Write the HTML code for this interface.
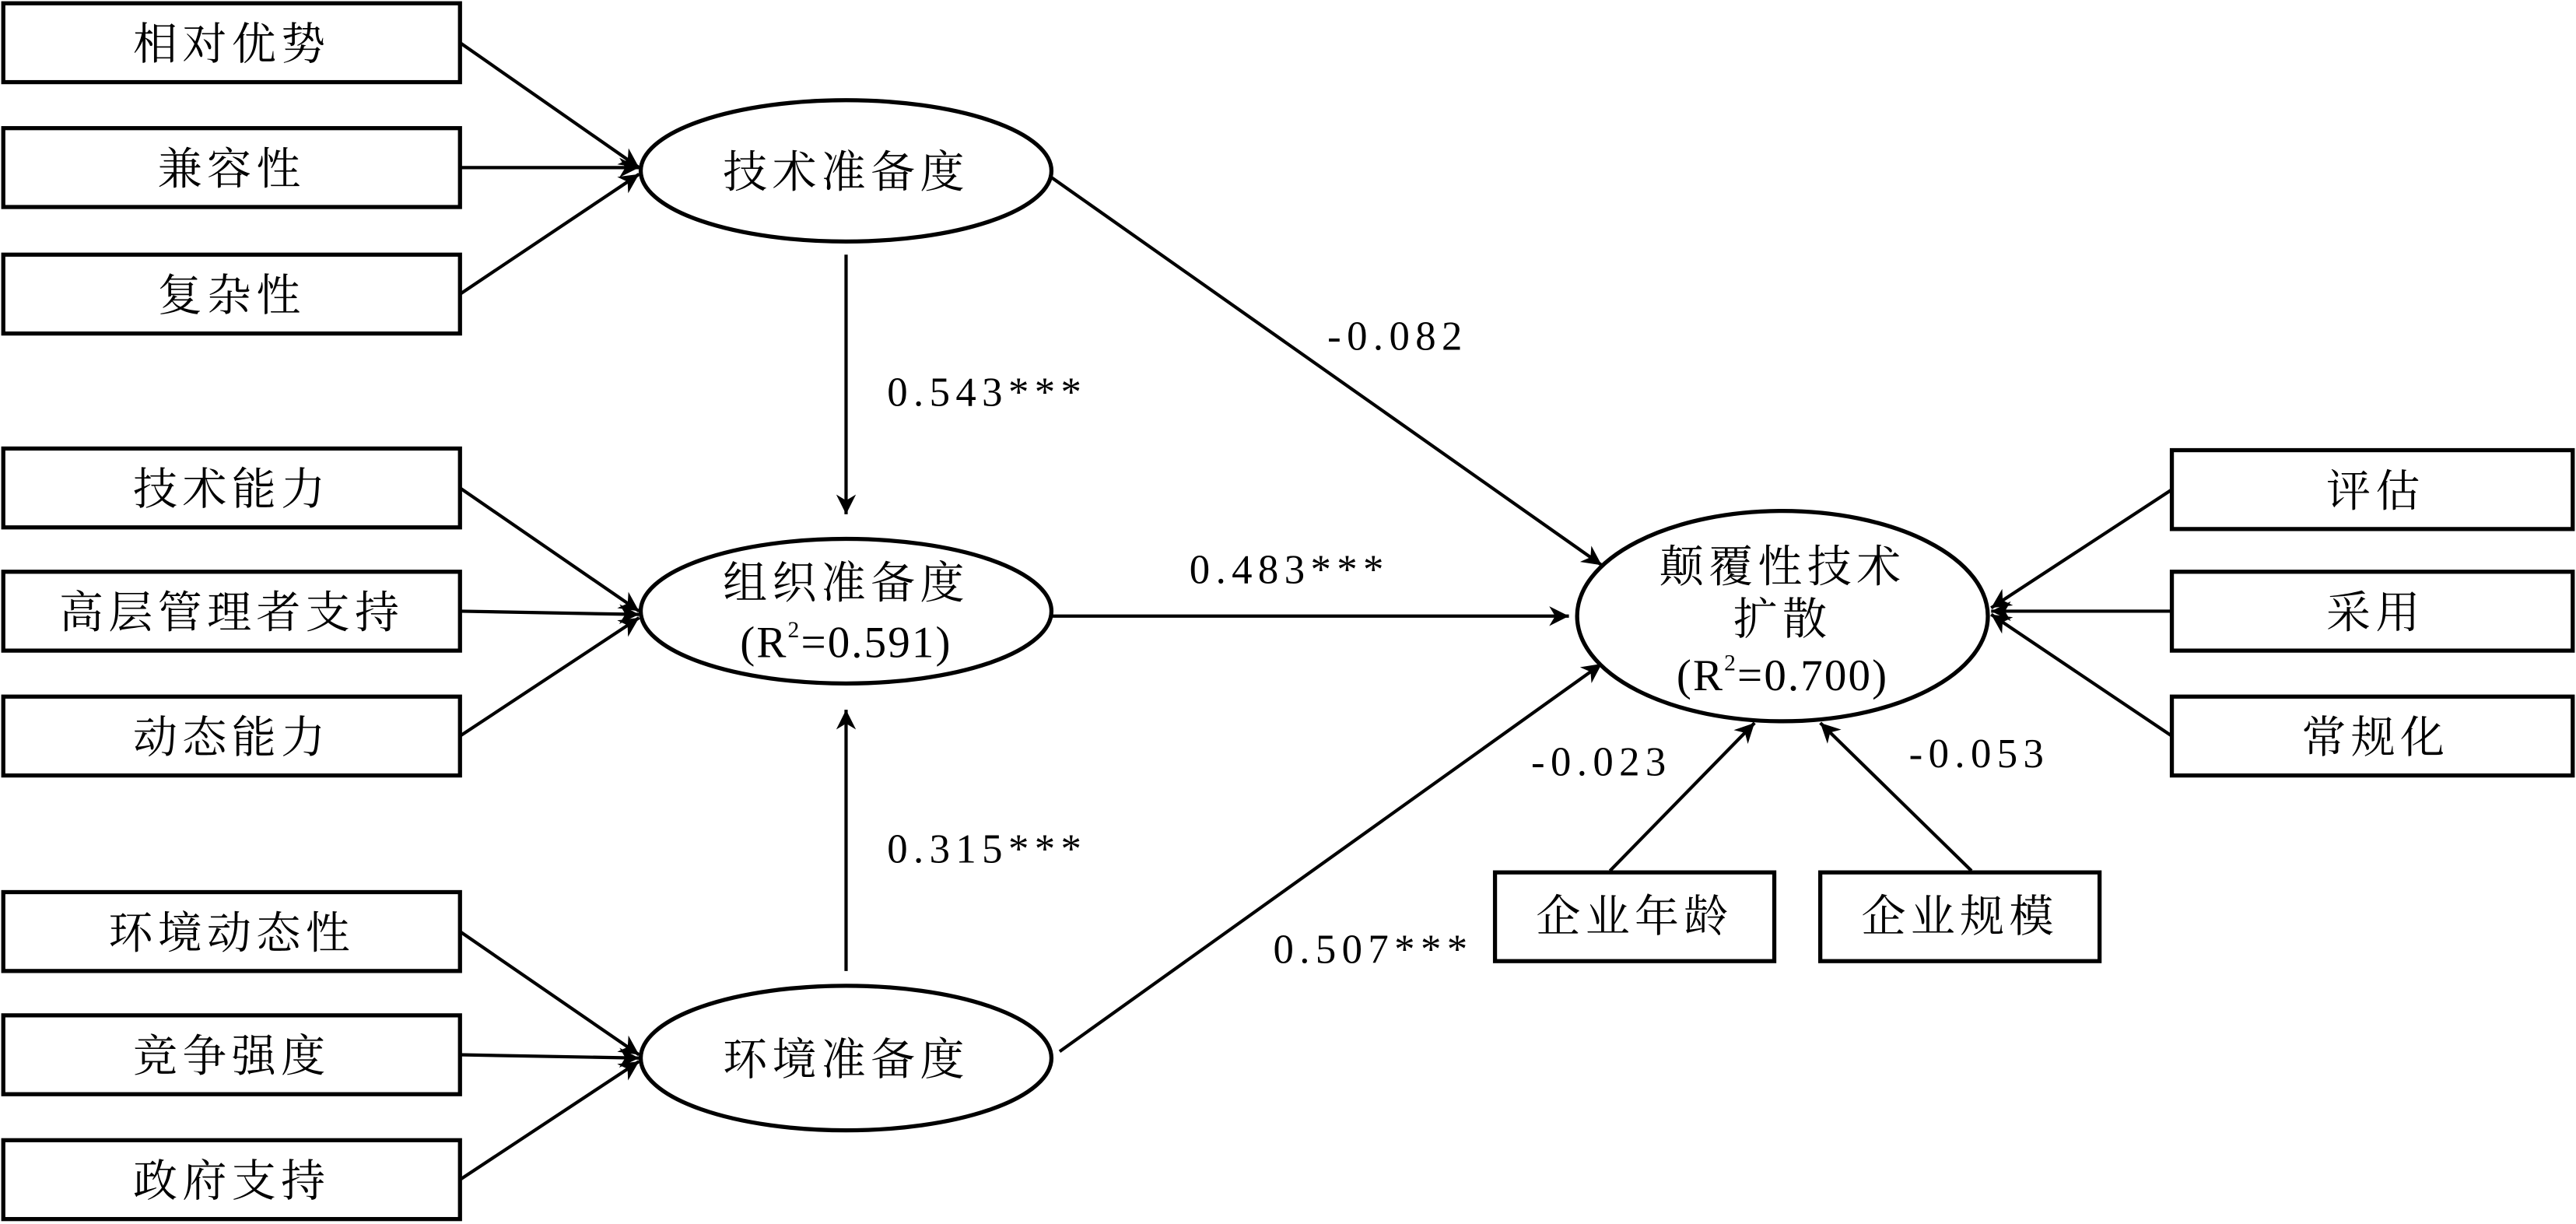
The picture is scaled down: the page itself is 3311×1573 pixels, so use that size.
<!DOCTYPE html>
<html><head><meta charset="utf-8"><style>
html,body{margin:0;padding:0;background:#fff;}
svg{display:block;}
text{font-family:"Liberation Serif","Noto Serif CJK SC","Noto Sans CJK SC",serif;fill:#000;}
</style></head><body>
<svg width="3311" height="1573" viewBox="0 0 1568 745" preserveAspectRatio="none" xmlns="http://www.w3.org/2000/svg">
<defs>
<marker id="b" viewBox="0 0 10 10" refX="10" refY="5" markerWidth="16" markerHeight="12" orient="auto" markerUnits="userSpaceOnUse"><path d="M0,0L10,5L0,10L3,5z" fill="#000"/></marker></defs>
<g fill="none" stroke="#000" stroke-width="2.5">
<rect x="2" y="2" width="278" height="48"/><rect x="2" y="78" width="278" height="48"/><rect x="2" y="155" width="278" height="48"/>
<rect x="2" y="273" width="278" height="48"/><rect x="2" y="348" width="278" height="48"/><rect x="2" y="424" width="278" height="48"/>
<rect x="2" y="543" width="278" height="48"/><rect x="2" y="618" width="278" height="48"/><rect x="2" y="694" width="278" height="48"/>
<rect x="1322" y="274" width="244" height="48"/><rect x="1322" y="348" width="244" height="48"/><rect x="1322" y="424" width="244" height="48"/>
<rect x="910" y="531" width="170" height="54"/><rect x="1108" y="531" width="170" height="54"/>
<ellipse cx="515" cy="104" rx="125" ry="43"/><ellipse cx="515" cy="372" rx="125" ry="44"/><ellipse cx="515" cy="644" rx="125" ry="44"/><ellipse cx="1085" cy="375" rx="125" ry="64"/>
</g>
<g stroke="#000" stroke-width="2" marker-end="url(#b)">
<line x1="280" y1="26" x2="389" y2="102"/><line x1="280" y1="102" x2="389" y2="102"/><line x1="280" y1="179" x2="389" y2="106"/>
<line x1="280" y1="297" x2="389" y2="372"/><line x1="280" y1="372" x2="389" y2="374"/><line x1="280" y1="448" x2="389" y2="376"/>
<line x1="280" y1="567" x2="389" y2="642"/><line x1="280" y1="642" x2="389" y2="644"/><line x1="280" y1="718" x2="389" y2="646"/>
<line x1="1322" y1="298" x2="1212" y2="370"/><line x1="1322" y1="372" x2="1212" y2="372"/><line x1="1322" y1="448" x2="1212" y2="374"/>
<line x1="515" y1="155" x2="515" y2="313"/><line x1="515" y1="591" x2="515" y2="432"/>
<line x1="640" y1="108" x2="975" y2="344"/><line x1="640" y1="375" x2="955" y2="375"/><line x1="645" y1="640" x2="975" y2="404"/>
<line x1="980" y1="530" x2="1068" y2="440"/><line x1="1200" y1="530" x2="1108" y2="440"/>
</g>
<g font-size="27" text-anchor="middle" letter-spacing="3">
<text x="141" y="36">相对优势</text><text x="141" y="112">兼容性</text><text x="141" y="189">复杂性</text>
<text x="141" y="307">技术能力</text><text x="141" y="382">高层管理者支持</text><text x="141" y="458">动态能力</text>
<text x="141" y="577">环境动态性</text><text x="141" y="652">竞争强度</text><text x="141" y="728">政府支持</text>
<text x="1446" y="308">评估</text><text x="1446" y="382">采用</text><text x="1446" y="458">常规化</text>
<text x="995" y="567">企业年龄</text><text x="1193" y="567">企业规模</text>
<text x="515" y="114">技术准备度</text><text x="515" y="364">组织准备度</text><text x="515" y="400" letter-spacing="1">(R<tspan font-size="14" dy="-12">2</tspan><tspan dy="12">=0.591)</tspan></text>
<text x="515" y="654">环境准备度</text>
<text x="1085" y="354">颠覆性技术</text><text x="1085" y="386">扩散</text><text x="1085" y="420" letter-spacing="1">(R<tspan font-size="14" dy="-12">2</tspan><tspan dy="12">=0.700)</tspan></text>
</g>
<g font-size="25" font-family="'Liberation Sans',sans-serif" letter-spacing="3.5">
<text x="808" y="213">-0.082</text><text x="540" y="247">0.543***</text><text x="724" y="355">0.483***</text>
<text x="540" y="525">0.315***</text><text x="775" y="586">0.507***</text><text x="932" y="472">-0.023</text><text x="1162" y="467">-0.053</text>
</g>
</svg>
</body></html>
